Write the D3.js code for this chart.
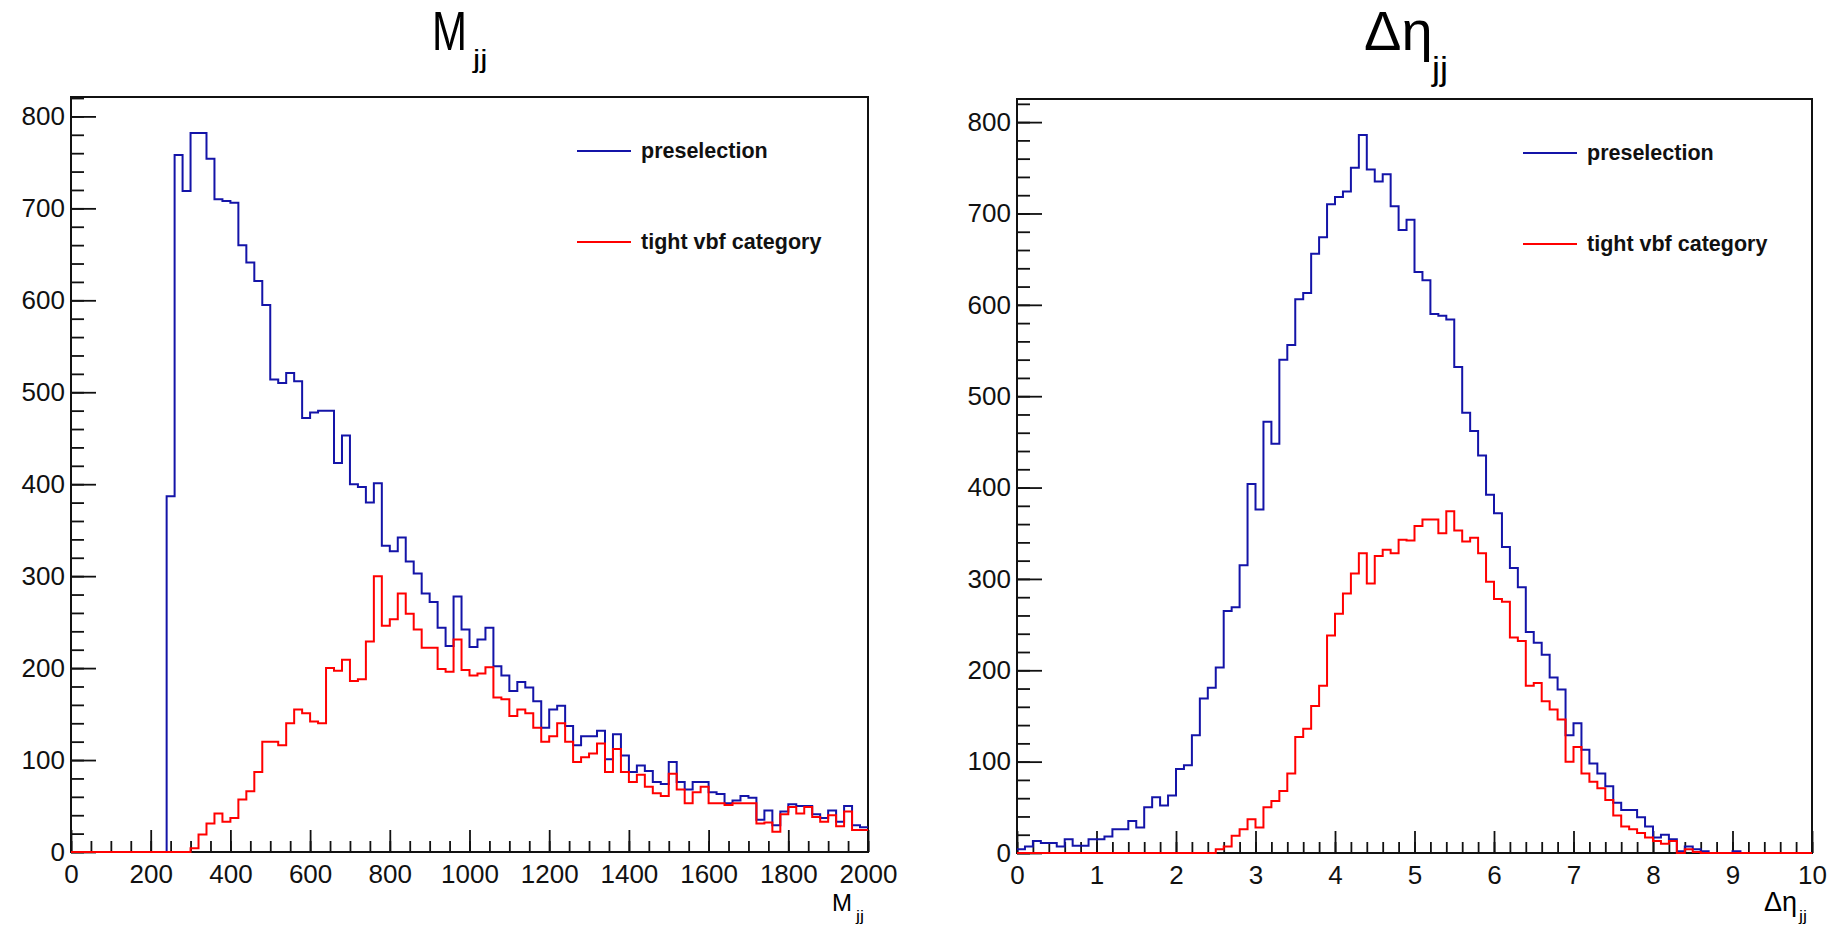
<!DOCTYPE html>
<html>
<head>
<meta charset="utf-8">
<script src="https://cdn.jsdelivr.net/npm/d3@7"></script>
<style>
  body { margin: 0; background: #fff; }
  svg text { font-family: "Liberation Sans", Arial, sans-serif; }
</style>
</head>
<body>
<div id="figure"></div>
<script>
const width = 1844,
      height = 928;

// Binning of the two histograms (100 bins each).
const mjjRange = [0, 2000];
const detaRange = [0, 10];

// Bin contents.
const mjjPresel = [
    0, 0, 0, 0, 0, 0, 0, 0, 0, 0, 0, 0, 387, 758, 719, 782, 782, 754, 710, 708,
    706, 660, 641, 621, 595, 514, 510, 521, 512, 472, 478, 480, 480, 423, 453, 400, 397, 380, 401, 333,
    327, 342, 316, 303, 281, 272, 244, 224, 278, 242, 223, 231, 244, 202, 192, 175, 185, 179, 164, 135,
    155, 159, 137, 116, 126, 126, 132, 101, 128, 105, 87, 94, 88, 76, 74, 98, 76, 68, 76, 76,
    65, 63, 53, 56, 61, 59, 35, 45, 29, 44, 52, 50, 50, 41, 37, 45, 33, 50, 29, 27];
const mjjTight = [
    0, 0, 0, 0, 0, 0, 0, 0, 0, 0, 0, 0, 0, 0, 0, 4, 19, 31, 42, 33,
    37, 57, 66, 87, 120, 120, 116, 140, 155, 151, 142, 140, 200, 197, 209, 186, 188, 229, 300, 246,
    253, 281, 259, 242, 222, 222, 199, 196, 231, 198, 192, 194, 201, 168, 166, 148, 155, 151, 135, 120,
    126, 140, 120, 98, 103, 107, 118, 87, 112, 87, 76, 84, 71, 64, 61, 85, 68, 53, 65, 71,
    53, 53, 51, 53, 53, 53, 31, 32, 22, 41, 49, 42, 49, 38, 33, 40, 28, 44, 24, 24];
const detaPresel = [
    4, 7, 13, 11, 11, 7, 15, 8, 8, 15, 15, 18, 26, 26, 35, 28, 50, 61, 52, 63,
    92, 96, 129, 169, 181, 203, 265, 269, 315, 404, 376, 472, 448, 540, 556, 606, 613, 656, 674, 710,
    718, 724, 750, 786, 748, 735, 743, 708, 682, 693, 636, 627, 590, 588, 584, 532, 482, 462, 435, 392,
    372, 335, 312, 291, 242, 230, 217, 192, 179, 129, 142, 113, 98, 87, 73, 55, 47, 47, 39, 29,
    17, 20, 15, 2, 7, 4, 2, 0, 0, 0, 2, 0, 0, 0, 0, 0, 0, 0, 0, 0];
const detaTight = [
    0, 0, 0, 0, 0, 0, 0, 0, 0, 0, 0, 0, 0, 0, 0, 0, 0, 0, 0, 0,
    0, 0, 0, 0, 0, 4, 7, 19, 26, 37, 28, 50, 57, 68, 87, 127, 136, 161, 183, 238,
    262, 284, 306, 328, 295, 325, 332, 328, 343, 342, 358, 365, 365, 350, 374, 353, 341, 345, 328, 297,
    278, 275, 236, 232, 183, 186, 166, 157, 146, 100, 116, 87, 78, 71, 58, 41, 29, 26, 22, 17,
    13, 10, 13, 0, 4, 1, 0, 0, 0, 0, 0, 0, 0, 0, 0, 0, 0, 0, 0, 0];

// Tick labels.
const mjjTicks = [0, 200, 400, 600, 800, 1000, 1200, 1400, 1600, 1800, 2000];
const detaTicks = [0, 1, 2, 3, 4, 5, 6, 7, 8, 9, 10];
const countTicks = [0, 100, 200, 300, 400, 500, 600, 700, 800];
const legendLabels = ["preselection", "tight vbf category"];

const blue = "#1414a8",
      red = "#ff0000";

const svg = d3.select("#figure").append("svg")
    .attr("width", width)
    .attr("height", height);

svg.append("rect")
    .attr("width", width)
    .attr("height", height)
    .attr("fill", "#fff");

const panels = [
    {frame: {left: 71, right: 868, top: 97, bottom: 852},
     range: mjjRange, series: [mjjPresel, mjjTight], ticks: mjjTicks, minorStep: 50,
     title: "M", titleFont: "Liberation Sans", titleX: 432, titleScale: 0.75,
     subX: 473, subY: 68, subSize: 25, subScale: 1.3,
     axisTitle: "M", axisFont: "Liberation Sans", axisSize: 24, axisX: 832, axisSubX: 856},
    {frame: {left: 1017, right: 1812, top: 99, bottom: 853},
     range: detaRange, series: [detaPresel, detaTight], ticks: detaTicks, minorStep: 0.2,
     title: "\u0394\u03b7", titleFont: "Liberation Serif", titleX: 1364, titleScale: 1,
     subX: 1432, subY: 80, subSize: 34, subScale: 1.05,
     axisTitle: "\u0394\u03b7", axisFont: "Liberation Serif", axisSize: 27, axisX: 1764, axisSubX: 1799}
];

panels.forEach(p => {
    const f = p.frame;
    const g = svg.append("g");
    const nbins = p.series[0].length;
    const bw = (p.range[1] - p.range[0]) / nbins;
    const ymax = 1.05 * d3.max(p.series.flat());

    const x = d3.scaleLinear().domain(p.range).range([f.left, f.right]);
    const y = d3.scaleLinear().domain([0, ymax]).range([f.bottom, f.top]);

    // Frame.
    g.append("rect")
        .attr("x", f.left).attr("y", f.top)
        .attr("width", f.right - f.left).attr("height", f.bottom - f.top)
        .attr("fill", "none").attr("stroke", "#111").attr("stroke-width", 2);

    // Minor + major ticks, drawn inward like ROOT.
    const minorX = d3.range(p.range[0], p.range[1] + 1e-9, p.minorStep);
    const minorY = d3.range(0, ymax, 20);

    const style = a => a
        .attr("font-size", 26)
        .attr("font-family", "Liberation Sans, Arial, sans-serif")
        .attr("color", "#111")
        .call(s => s.select(".domain").remove())
        .call(s => s.selectAll("line").attr("stroke-width", 1.8));

    g.append("g")
        .attr("transform", `translate(0,${f.bottom})`)
        .call(d3.axisBottom(x).tickValues(minorX).tickSize(-11).tickFormat(""))
        .call(style);
    g.append("g")
        .attr("transform", `translate(0,${f.bottom})`)
        .call(d3.axisBottom(x).tickValues(p.ticks).tickSize(-22).tickPadding(13).tickFormat(d3.format("d")))
        .call(style);
    g.append("g")
        .attr("transform", `translate(${f.left},0)`)
        .call(d3.axisLeft(y).tickValues(minorY).tickSize(-13).tickFormat(""))
        .call(style);
    g.append("g")
        .attr("transform", `translate(${f.left},0)`)
        .call(d3.axisLeft(y).tickValues(countTicks).tickSize(-25).tickPadding(6).tickFormat(d3.format("d")))
        .call(style);

    // Histograms as step outlines.
    const line = d3.line()
        .curve(d3.curveStepAfter)
        .x(d => x(d[0]))
        .y(d => y(d[1]));

    p.series.forEach((vals, k) => {
        const pts = vals.map((v, i) => [p.range[0] + i * bw, v])
            .concat([[p.range[1], vals[vals.length - 1]]]);
        g.append("path")
            .datum(pts)
            .attr("d", line)
            .attr("fill", "none")
            .attr("stroke", k === 0 ? blue : red)
            .attr("stroke-width", 2);
    });

    // Legend.
    const leg = g.append("g")
        .attr("transform", `translate(${f.left + 506},${f.top + 54})`);
    legendLabels.forEach((lab, k) => {
        leg.append("line")
            .attr("x1", 0).attr("x2", 54)
            .attr("y1", k * 91).attr("y2", k * 91)
            .attr("stroke", k === 0 ? blue : red)
            .attr("stroke-width", 2);
        leg.append("text")
            .attr("x", 64).attr("y", k * 91 + 7)
            .attr("font-size", 21.5)
            .attr("font-weight", "bold")
            .attr("fill", "#111")
            .text(lab);
    });

    // Pad title and its subscript.
    g.append("text")
        .attr("transform", `translate(${p.titleX},50) scale(${p.titleScale},1)`)
        .attr("font-family", p.titleFont)
        .attr("font-size", 56)
        .text(p.title);
    g.append("text")
        .attr("transform", `translate(${p.subX},${p.subY}) scale(${p.subScale},1)`)
        .attr("font-size", p.subSize)
        .text("jj");

    // Axis title at the right end of the x axis.
    g.append("text")
        .attr("x", p.axisX).attr("y", 911)
        .attr("font-family", p.axisFont)
        .attr("font-size", p.axisSize)
        .text(p.axisTitle);
    g.append("text")
        .attr("transform", `translate(${p.axisSubX},921) scale(1.2,1)`)
        .attr("font-size", 15)
        .text("jj");
});
</script>
</body>
</html>
